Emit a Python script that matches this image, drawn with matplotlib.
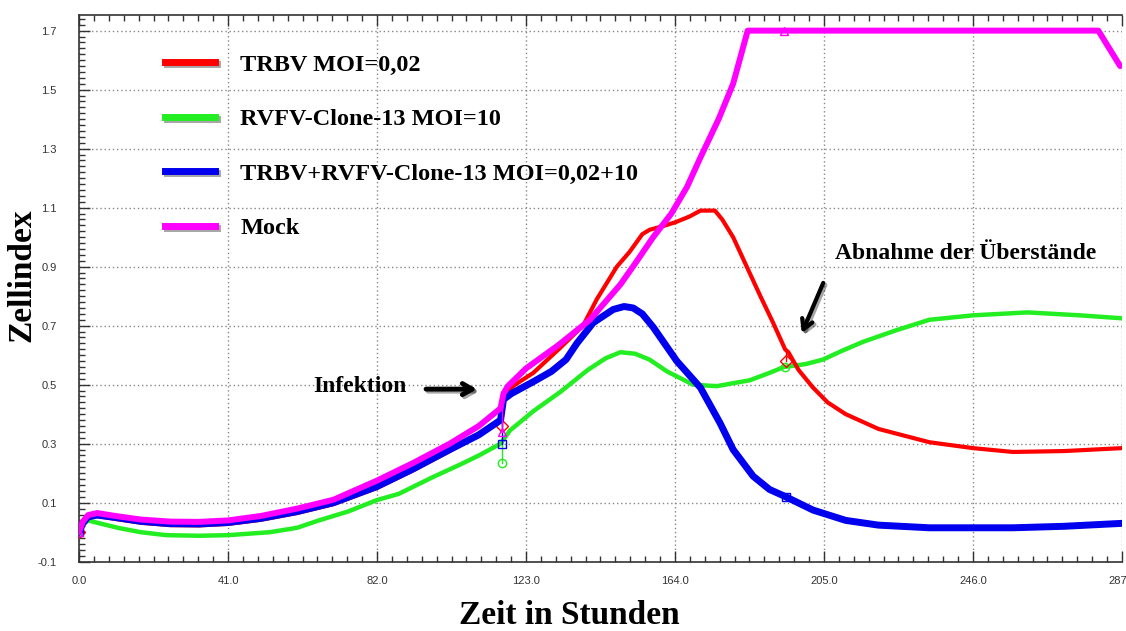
import matplotlib.pyplot as plt
import matplotlib.patheffects as pe
from matplotlib.lines import Line2D
from matplotlib.ticker import AutoMinorLocator, FormatStrFormatter
import numpy as np

# Zellindex-Verlaeufe (Zeit in Stunden)
t_trbv = [0, 1, 2.5, 5, 10, 17, 25, 33, 41, 50, 60, 70, 82, 92, 102, 110, 116,
          116.8, 120, 125, 132, 138.7, 142.5, 145, 148, 151.5, 155, 157, 160,
          164, 168, 171, 175, 177, 180, 183, 187.5, 191, 194.3, 195.2, 198,
          202, 206, 211, 220, 234, 246, 257, 271, 287]
trbv = [0.0, 0.03, 0.05, 0.055, 0.045, 0.032, 0.024, 0.023, 0.028, 0.042, 0.065,
        0.095, 0.15, 0.21, 0.275, 0.33, 0.38,
        0.465, 0.50, 0.54, 0.62, 0.70, 0.79, 0.84, 0.90, 0.95, 1.01, 1.025, 1.035,
        1.05, 1.07, 1.09, 1.09, 1.06, 1.0, 0.92, 0.80, 0.71, 0.62, 0.61, 0.55,
        0.49, 0.44, 0.40, 0.35, 0.305, 0.285, 0.272, 0.275, 0.285]

t_rvfv = [0, 1, 2.5, 5, 11, 17, 24, 33, 41, 52.5, 60, 66, 74, 82, 88, 97.4,
          105, 110, 116, 118.6, 125, 132.4, 140, 145, 149, 153, 157, 161.8, 165,
          169, 175.5, 180, 184.6, 190, 194, 200, 204.7, 210, 215.7, 225, 234,
          246, 261, 275.5, 287]
rvfv = [0.0, 0.025, 0.04, 0.032, 0.014, 0.0, -0.01, -0.012, -0.01, 0.0, 0.015,
        0.04, 0.07, 0.109, 0.13, 0.187, 0.23, 0.26, 0.30, 0.345, 0.41, 0.475,
        0.55, 0.59, 0.61, 0.605, 0.585, 0.545, 0.525, 0.50, 0.495, 0.505, 0.515,
        0.54, 0.56, 0.57, 0.585, 0.615, 0.645, 0.685, 0.72, 0.735, 0.745,
        0.735, 0.725]

t_combo = [0, 1, 2.5, 5, 10, 17, 25, 33, 41, 50, 60, 70, 82, 92, 102, 110, 116,
           116.8, 119, 125, 130, 134, 137, 141.5, 147, 150, 152.5, 155, 158,
           164.5, 171, 176.4, 180, 185.5, 190, 194.5, 202, 211, 220, 234, 257,
           271, 287]
combo = [0.0, 0.03, 0.052, 0.058, 0.05, 0.037, 0.029, 0.028, 0.033, 0.047, 0.07,
         0.1, 0.155, 0.215, 0.28, 0.33, 0.38,
         0.45, 0.47, 0.51, 0.545, 0.585, 0.64, 0.71, 0.755, 0.765, 0.76, 0.74,
         0.695, 0.58, 0.49, 0.37, 0.28, 0.19, 0.145, 0.12, 0.075, 0.04, 0.024,
         0.015, 0.015, 0.02, 0.03]

t_mock = [0, 1, 2.5, 5, 10, 17, 25, 33, 41, 50, 60, 70, 82, 92, 102, 110, 116,
          116.8, 118, 123, 132, 140.6, 149, 153, 158, 163, 167.3, 171, 176, 180,
          184, 280.5, 286.5]
mock = [0.0, 0.035, 0.058, 0.065, 0.055, 0.043, 0.036, 0.035, 0.04, 0.055, 0.08,
        0.11, 0.175, 0.235, 0.30, 0.36, 0.42,
        0.47, 0.495, 0.555, 0.635, 0.72, 0.84, 0.91, 1.0, 1.08, 1.17, 1.27, 1.40,
        1.52, 1.70, 1.70, 1.58]

# Messpunkte (Start, Infektion, Abnahme der Ueberstaende)
trbv_mark_t = [0, 116.5, 194.6]
trbv_mark = [0.0, 0.36, 0.58]
rvfv_mark_t = [0, 116.5, 194.4]
rvfv_mark = [0.0, 0.235, 0.56]
combo_mark_t = [0, 116.5, 194.5]
combo_mark = [0.0, 0.30, 0.12]
mock_mark_t = [0, 116.5, 194.0]
mock_mark = [0.0, 0.34, 1.70]

labels = ["TRBV MOI=0,02", "RVFV-Clone-13 MOI=10",
          "TRBV+RVFV-Clone-13 MOI=0,02+10", "Mock"]
colors = ["#ff0000", "#22ee22", "#0000ee", "#ff00ff"]

serif = ["Liberation Serif", "DejaVu Serif"]

fig = plt.figure(figsize=(11.26, 6.31), dpi=100)
ax = fig.add_axes([0.0702, 0.1098, 0.9262, 0.8669])

series = [
    (t_rvfv, rvfv, rvfv_mark_t, rvfv_mark, colors[1], 3.2, "o", 2),
    (t_trbv, trbv, trbv_mark_t, trbv_mark, colors[0], 3.0, "D", 3),
    (t_combo, combo, combo_mark_t, combo_mark, colors[2], 5.0, "s", 4),
    (t_mock, mock, mock_mark_t, mock_mark, colors[3], 4.3, "^", 5),
]
for t, v, mt, mv, c, lw, m, z in series:
    ax.plot(t, v, color=c, lw=lw, solid_capstyle="round", zorder=z)
    # kurzer Einbruch an den Messpunkten
    for tt, vv in zip(mt[1:], mv[1:]):
        ax.plot([tt, tt], [np.interp(tt, t, v), vv], color=c, lw=1.0, zorder=z)
    ax.plot(mt, mv, ls="none", marker=m, ms=6, mfc="none", mec=c, mew=1.0,
            zorder=z + 0.5)

ax.set_xlim(0, 287)
ax.set_ylim(-0.1, 1.754)
ax.set_xticks(np.arange(0, 288, 41))
ax.set_yticks(np.arange(-0.1, 1.71, 0.2))
ax.xaxis.set_minor_locator(AutoMinorLocator(10))
ax.yaxis.set_minor_locator(AutoMinorLocator(10))
ax.xaxis.set_major_formatter(FormatStrFormatter("%.1f"))
ax.yaxis.set_major_formatter(FormatStrFormatter("%.1f"))
ax.tick_params(which="both", direction="in", top=True, right=False,
               color="#333333", width=1.0)
ax.tick_params(which="major", length=8)
ax.tick_params(which="minor", length=4)
ax.tick_params(axis="x", pad=10, labelsize=8, labelcolor="#333333")
ax.tick_params(axis="y", pad=16, labelsize=8, labelcolor="#333333")
for lab in ax.get_xticklabels() + ax.get_yticklabels():
    lab.set_family("Liberation Sans")
ax.spines["right"].set_visible(False)
for s in ["left", "bottom", "top"]:
    ax.spines[s].set_color("#333333")
    ax.spines[s].set_linewidth(1.2)
ax.grid(True, which="major", color="#888888", ls=(0, (1, 2)), lw=1.0)
ax.set_axisbelow(True)

fig.text(0.0195, 0.564, "Zellindex", rotation=90, ha="center", va="center",
         family=serif, weight="bold", fontsize=24)
fig.text(0.506, 0.025, "Zeit in Stunden", ha="center", va="center",
         family=serif, weight="bold", fontsize=24)

shadow = [pe.SimpleLineShadow(offset=(1.5, -1.5), alpha=0.35), pe.Normal()]
handles = [Line2D([], [], color=c, lw=5, path_effects=shadow) for c in colors]
ax.legend(handles, labels, loc="upper left", bbox_to_anchor=(0.0705, 0.951),
          frameon=False, borderpad=0, handlelength=2.05, handletextpad=1.05,
          labelspacing=1.34, prop=dict(family=serif, weight="bold", size=17.5))

arrow_fx = [pe.SimpleLineShadow(offset=(1.5, -1.5), alpha=0.35), pe.Normal()]
arrow_style = "->,head_length=0.7,head_width=0.4"
ax.text(77.3, 0.495, "Infektion", ha="center", va="center", family=serif,
        weight="bold", fontsize=17)
ax.annotate("", xy=(109.5, 0.485), xytext=(95.5, 0.485),
            arrowprops=dict(arrowstyle=arrow_style, color="black", lw=3.5,
                            shrinkA=0, shrinkB=0, path_effects=arrow_fx))
ax.text(244, 0.943, "Abnahme der Überstände", ha="center", va="center",
        family=serif, weight="bold", fontsize=17)
ax.annotate("", xy=(198.9, 0.675), xytext=(204.8, 0.845),
            arrowprops=dict(arrowstyle=arrow_style, color="black", lw=3.0,
                            shrinkA=0, shrinkB=0, path_effects=arrow_fx))

fig.savefig("out.png", dpi=100, facecolor="white")
